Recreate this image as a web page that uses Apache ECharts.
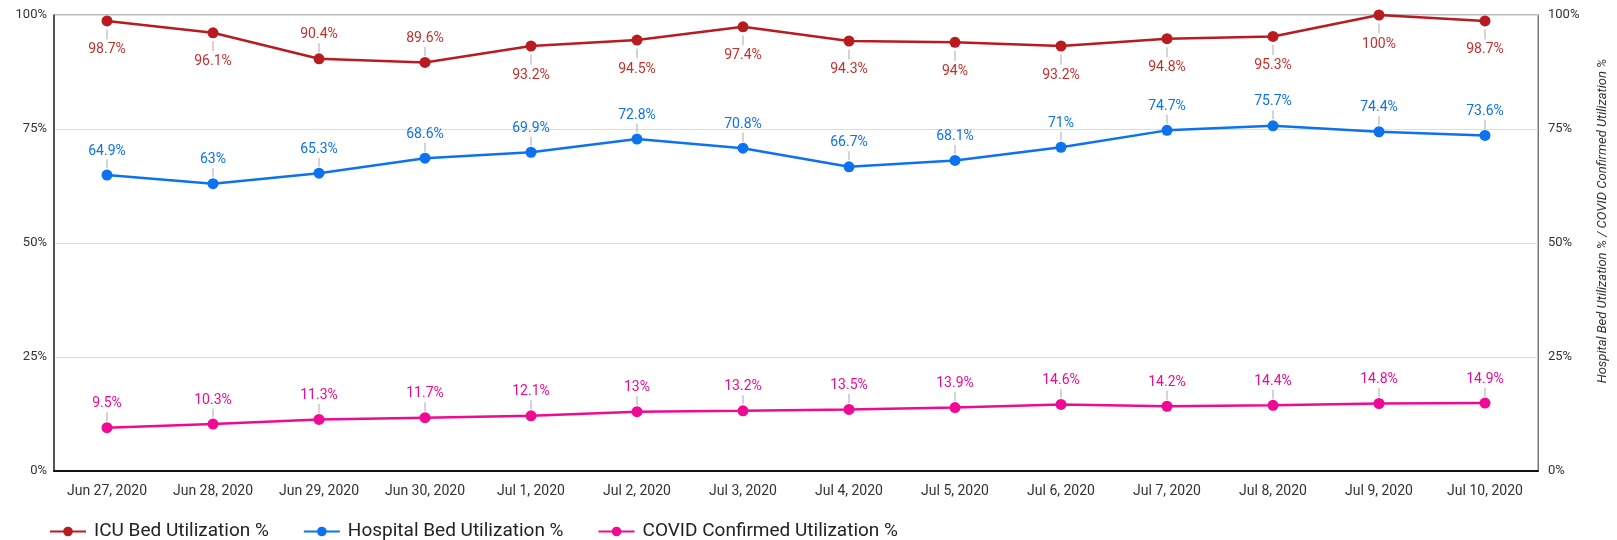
<!DOCTYPE html>
<html>
<head>
<meta charset="utf-8">
<script src="https://cdn.jsdelivr.net/npm/echarts@6/dist/echarts.min.js"></script>
<style>
  html, body { margin: 0; padding: 0; background: #fff; }
  #chart { width: 1617px; height: 540px; }
</style>
</head>
<body>
<div id="chart"></div>
<script>
// data
var dates = ['Jun 27, 2020', 'Jun 28, 2020', 'Jun 29, 2020', 'Jun 30, 2020', 'Jul 1, 2020', 'Jul 2, 2020', 'Jul 3, 2020',
  'Jul 4, 2020', 'Jul 5, 2020', 'Jul 6, 2020', 'Jul 7, 2020', 'Jul 8, 2020', 'Jul 9, 2020', 'Jul 10, 2020']
var icuUtil = [98.7, 96.1, 90.4, 89.6, 93.2, 94.5, 97.4, 94.3, 94, 93.2, 94.8, 95.3, 100, 98.7]
var hospitalUtil = [64.9, 63, 65.3, 68.6, 69.9, 72.8, 70.8, 66.7, 68.1, 71, 74.7, 75.7, 74.4, 73.6]
var covidUtil = [9.5, 10.3, 11.3, 11.7, 12.1, 13, 13.2, 13.5, 13.9, 14.6, 14.2, 14.4, 14.8, 14.9]
var axisTicks = [0, 25, 50, 75, 100]

var FONT = 'Roboto'
var RED = '#b81b20'
var BLUE = '#0c72ee'
var PINK = '#ef0a93'

// label with a small grey leader line between text and point
function makeLabel(color, above) {
  return {
    show: true,
    position: above ? 'top' : 'bottom',
    distance: above ? 1 : 3,
    align: 'center',
    formatter: function (p) {
      return above ? '{v|' + p.value + '%}\n{l|}' : '{l|}\n{v|' + p.value + '%}'
    },
    rich: {
      v: { color: color, fontSize: 14, fontFamily: FONT, lineHeight: above ? 17 : 21 },
      l: { width: 1, height: above ? 9 : 10, backgroundColor: '#aaa' }
    }
  }
}

// ICU labels sit below the line except where the line dips
var icuAbove = [2, 3]
var icuData = icuUtil.map(function (v, i) {
  return { value: v, label: makeLabel('#c3302f', icuAbove.indexOf(i) >= 0) }
})

var chart = echarts.init(document.getElementById('chart'))
chart.setOption({
  backgroundColor: '#fff',
  animation: false,
  textStyle: { fontFamily: FONT },
  grid: {
    left: 54,
    right: 71,
    top: 15,
    bottom: 69,
    show: true,
    borderColor: '#777',
    borderWidth: 1
  },
  legend: {
    left: 44,
    bottom: -6,
    itemWidth: 36,
    itemHeight: 12,
    itemGap: 34,
    textStyle: { fontSize: 19, color: '#222', fontFamily: FONT, padding: [0, 0, 0, 3] },
    data: ['ICU Bed Utilization %', 'Hospital Bed Utilization %', 'COVID Confirmed Utilization %']
  },
  xAxis: {
    type: 'category',
    data: dates,
    boundaryGap: true,
    axisLine: { lineStyle: { color: '#111', width: 2 } },
    axisTick: { show: false },
    axisLabel: { color: '#333', fontSize: 14, margin: 13, interval: 0 }
  },
  yAxis: [{
    type: 'value',
    min: axisTicks[0],
    max: axisTicks[axisTicks.length - 1],
    interval: 25,
    axisLine: { show: true, lineStyle: { color: '#333', width: 1.5 } },
    axisTick: { show: false },
    axisLabel: { color: '#333', fontSize: 13, margin: 7, formatter: '{value}%' },
    splitLine: { lineStyle: { color: '#ddd' } }
  }, {
    type: 'value',
    min: axisTicks[0],
    max: axisTicks[axisTicks.length - 1],
    interval: 25,
    name: 'Hospital Bed Utilization % / COVID Confirmed Utilization %',
    nameLocation: 'middle',
    nameGap: 58,
    nameTextStyle: { fontStyle: 'italic', fontSize: 13, color: '#333', padding: [0, 0, 0, 44] },
    axisLine: { show: true, lineStyle: { color: '#777', width: 1 } },
    axisTick: { show: false },
    axisLabel: { color: '#333', fontSize: 13, margin: 10, formatter: '{value}%' },
    splitLine: { show: false }
  }],
  series: [{
    name: 'ICU Bed Utilization %',
    type: 'line',
    yAxisIndex: 0,
    symbol: 'circle',
    symbolSize: 11,
    lineStyle: { width: 2.5, color: RED },
    itemStyle: { color: RED },
    data: icuData
  }, {
    name: 'Hospital Bed Utilization %',
    type: 'line',
    yAxisIndex: 1,
    symbol: 'circle',
    symbolSize: 11,
    lineStyle: { width: 2.5, color: BLUE },
    itemStyle: { color: BLUE },
    label: makeLabel(BLUE, true),
    data: hospitalUtil
  }, {
    name: 'COVID Confirmed Utilization %',
    type: 'line',
    yAxisIndex: 1,
    symbol: 'circle',
    symbolSize: 11,
    lineStyle: { width: 2.5, color: PINK },
    itemStyle: { color: PINK },
    label: makeLabel(PINK, true),
    data: covidUtil
  }]
})
</script>
</body>
</html>
